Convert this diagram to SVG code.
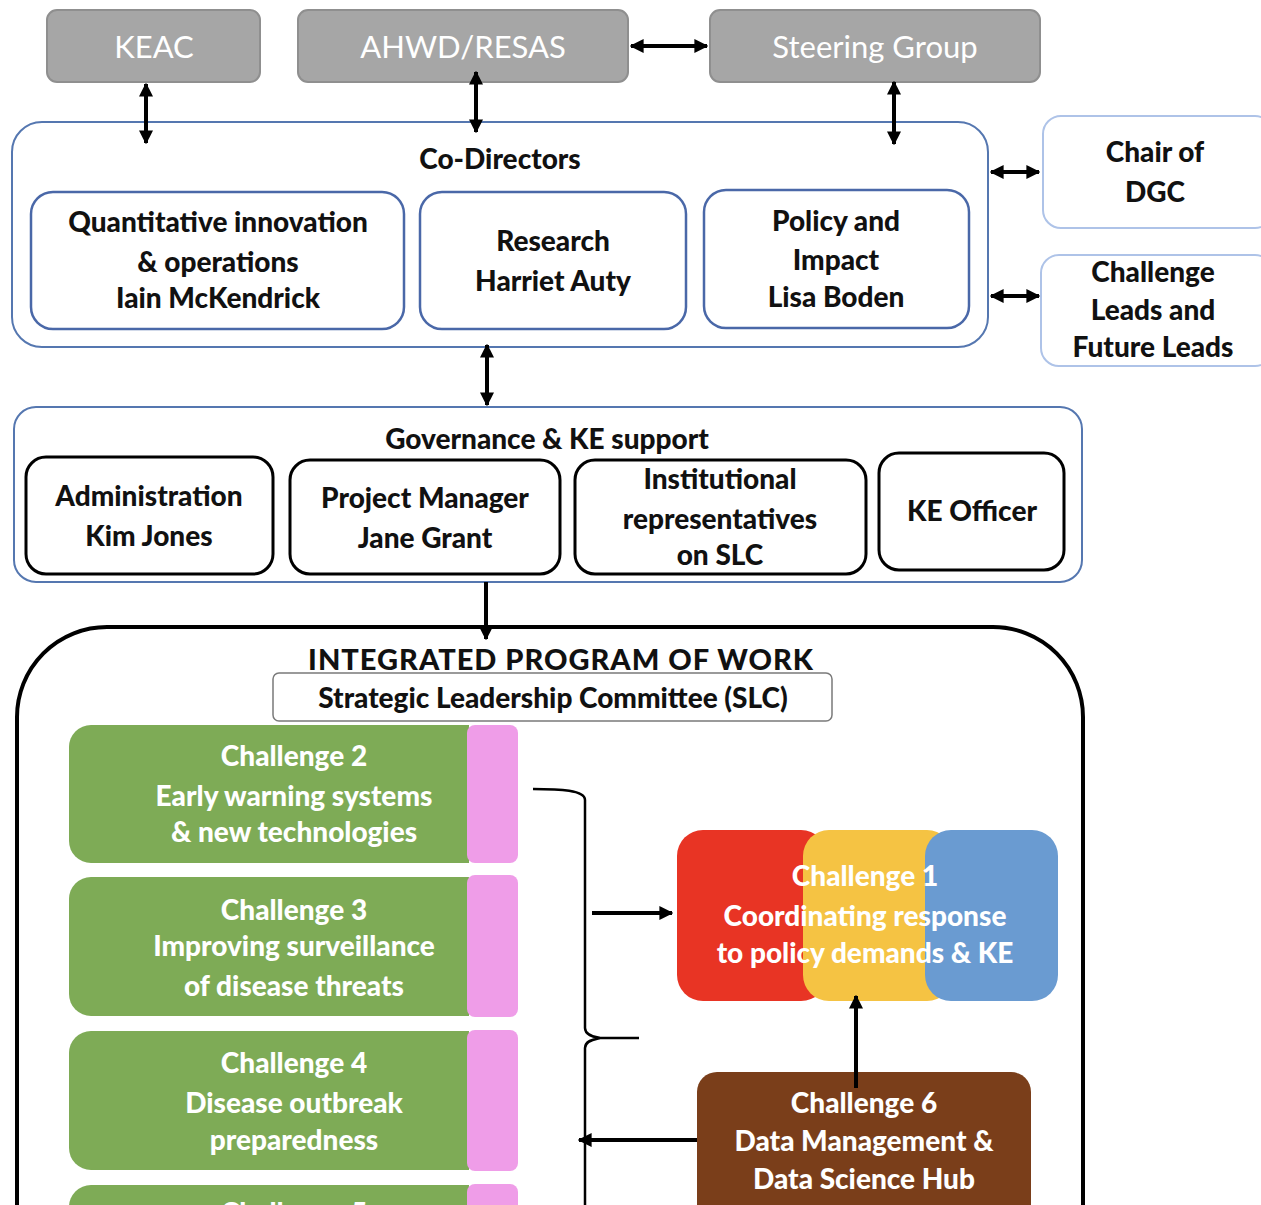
<svg xmlns="http://www.w3.org/2000/svg" width="1261" height="1205" viewBox="0 0 1261 1205">
<defs>
<marker id="ah" viewBox="0 0 10 10" refX="9" refY="5" markerWidth="3.5" markerHeight="3.5" orient="auto-start-reverse" markerUnits="strokeWidth">
<path d="M0,0 L10,5 L0,10 Z" fill="#000"/>
</marker>
<style>
text{font-family:Lato,"Open Sans","Liberation Sans",sans-serif;font-weight:900;text-anchor:middle;}
.gray rect{fill:#a6a6a6;stroke:#8f8f8f;stroke-width:2;}
.gray text{fill:#fff;font-weight:normal;font-size:31px;}
.blueo{fill:#fff;stroke:#5577b0;stroke-width:2;}
.bluei{fill:#fff;stroke:#4a68a8;stroke-width:2.5;}
.bluel{fill:#fff;stroke:#aec3e8;stroke-width:2;}
.blk{fill:#fff;stroke:#000;stroke-width:3;}
.t{fill:#111;font-size:28px;}
.w{fill:#fff;font-size:28px;}
.green{fill:#7eab56;}
.pink{fill:#ef9de8;}
.arr{stroke:#000;stroke-width:4;fill:none;marker-end:url(#ah);}
.darr{stroke:#000;stroke-width:4;fill:none;marker-end:url(#ah);marker-start:url(#ah);}
</style>
</defs>

<g id="keac" class="gray"><rect x="47" y="10" width="213" height="72" rx="10"/><text x="154" y="58">KEAC</text></g>
<g id="ahwd" class="gray"><rect x="298" y="10" width="330" height="72" rx="10"/><text x="463" y="58">AHWD/RESAS</text></g>
<g id="steering" class="gray"><rect x="710" y="10" width="330" height="72" rx="10"/><text x="875" y="58">Steering Group</text></g>

<g id="codirectors">
<rect class="blueo" x="12" y="122" width="976" height="225" rx="30"/>
<text class="t" x="500" y="169">Co-Directors</text>
</g>
<g id="quant"><rect class="bluei" x="31" y="192" width="373" height="137" rx="22"/>
<text class="t" x="218" y="232">Quantitative innovation</text><text class="t" x="218" y="272">&amp; operations</text><text class="t" x="218" y="308">Iain McKendrick</text></g>
<g id="research"><rect class="bluei" x="420" y="192" width="266" height="137" rx="22"/>
<text class="t" x="553" y="251">Research</text><text class="t" x="553" y="291">Harriet Auty</text></g>
<g id="policy"><rect class="bluei" x="704" y="190" width="265" height="138" rx="22"/>
<text class="t" x="836" y="231">Policy and</text><text class="t" x="836" y="270">Impact</text><text class="t" x="836" y="307">Lisa Boden</text></g>

<g id="chair"><rect class="bluel" x="1043" y="116" width="230" height="112" rx="18"/>
<text class="t" x="1155" y="162">Chair of</text><text class="t" x="1155" y="202">DGC</text></g>
<g id="leads"><rect class="bluel" x="1041" y="255" width="232" height="111" rx="18"/>
<text class="t" x="1153" y="282">Challenge</text><text class="t" x="1153" y="320">Leads and</text><text class="t" x="1153" y="357">Future Leads</text></g>

<g id="governance">
<rect class="blueo" x="14" y="407" width="1068" height="175" rx="22"/>
<text class="t" x="547" y="449">Governance &amp; KE support</text>
</g>
<g id="admin"><rect class="blk" x="26" y="457" width="247" height="117" rx="20"/>
<text class="t" x="149" y="506">Administration</text><text class="t" x="149" y="546">Kim Jones</text></g>
<g id="pm"><rect class="blk" x="290" y="460" width="270" height="114" rx="20"/>
<text class="t" x="425" y="508">Project Manager</text><text class="t" x="425" y="548">Jane Grant</text></g>
<g id="inst"><rect class="blk" x="575" y="460" width="291" height="114" rx="20"/>
<text class="t" x="720" y="489">Institutional</text><text class="t" x="720" y="529">representatives</text><text class="t" x="720" y="565">on SLC</text></g>
<g id="keofficer"><rect class="blk" x="879" y="453" width="185" height="117" rx="20"/>
<text class="t" x="972" y="521">KE Officer</text></g>

<g id="program">
<rect x="17" y="627" width="1066" height="700" rx="90" fill="#fff" stroke="#000" stroke-width="4"/>
<text class="t" x="561" y="670" style="font-size:29px;letter-spacing:1px">INTEGRATED PROGRAM OF WORK</text>
</g>
<g id="slc"><rect x="273" y="673" width="559" height="48" rx="6" fill="#fff" stroke="#7a7a7a" stroke-width="1.5"/>
<text class="t" x="553" y="708">Strategic Leadership Committee (SLC)</text></g>

<g id="ch2"><path class="green" d="M91,725 H469 V863 H91 A22,22 0 0 1 69,841 V747 A22,22 0 0 1 91,725 Z"/><rect class="pink" x="467" y="725" width="51" height="138" rx="8"/>
<text class="w" x="294" y="766">Challenge 2</text><text class="w" x="294" y="806">Early warning systems</text><text class="w" x="294" y="842">&amp; new technologies</text></g>
<g id="ch3"><path class="green" d="M91,877 H469 V1016 H91 A22,22 0 0 1 69,994 V899 A22,22 0 0 1 91,877 Z"/><rect class="pink" x="467" y="875" width="51" height="142" rx="8"/>
<text class="w" x="294" y="920">Challenge 3</text><text class="w" x="294" y="956">Improving surveillance</text><text class="w" x="294" y="996">of disease threats</text></g>
<g id="ch4"><path class="green" d="M91,1031 H469 V1170 H91 A22,22 0 0 1 69,1148 V1053 A22,22 0 0 1 91,1031 Z"/><rect class="pink" x="467" y="1030" width="51" height="141" rx="8"/>
<text class="w" x="294" y="1073">Challenge 4</text><text class="w" x="294" y="1113">Disease outbreak</text><text class="w" x="294" y="1150">preparedness</text></g>
<g id="ch5"><path class="green" d="M91,1185 H469 V1324 H91 A22,22 0 0 1 69,1302 V1207 A22,22 0 0 1 91,1185 Z"/><rect class="pink" x="467" y="1184" width="51" height="141" rx="8"/>
<text class="w" x="294" y="1223">Challenge 5</text></g>

<g id="ch1">
<rect x="677" y="830" width="150" height="171" rx="26" fill="#e83424"/>
<rect x="803" y="830" width="150" height="171" rx="26" fill="#f5c343"/>
<rect x="925" y="830" width="133" height="171" rx="26" fill="#6a9bd1"/>
<text class="w" x="865" y="886">Challenge 1</text><text class="w" x="865" y="926">Coordinating response</text><text class="w" x="865" y="963">to policy demands &amp; KE</text>
</g>
<g id="ch6"><rect x="697" y="1072" width="334" height="160" rx="20" fill="#7a3e1a"/>
<text class="w" x="864" y="1113">Challenge 6</text><text class="w" x="864" y="1151">Data Management &amp;</text><text class="w" x="864" y="1189">Data Science Hub</text></g>

<g id="connectors">
<line class="darr" x1="146" y1="84" x2="146" y2="143"/>
<line class="darr" x1="476" y1="72" x2="476" y2="132"/>
<line class="darr" x1="894" y1="82" x2="894" y2="144"/>
<line class="darr" x1="631" y1="46" x2="707" y2="46"/>
<line class="darr" x1="991" y1="172" x2="1039" y2="172"/>
<line class="darr" x1="991" y1="296" x2="1039" y2="296"/>
<line class="darr" x1="487" y1="345" x2="487" y2="405"/>
<line class="arr" x1="486" y1="582" x2="486" y2="639"/>
<path d="M533,789 C560,789 585,790 585,800 L585,1028 C585,1036 596,1037 600,1038 L639,1038 M600,1038 C596,1039 585,1040 585,1048 L585,1205" stroke="#000" stroke-width="2.5" fill="none"/>
<line class="arr" x1="592" y1="913" x2="672" y2="913"/>
<line class="arr" x1="856" y1="1088" x2="856" y2="996"/>
<line class="arr" x1="697" y1="1140" x2="579" y2="1140"/>
</g>
</svg>
